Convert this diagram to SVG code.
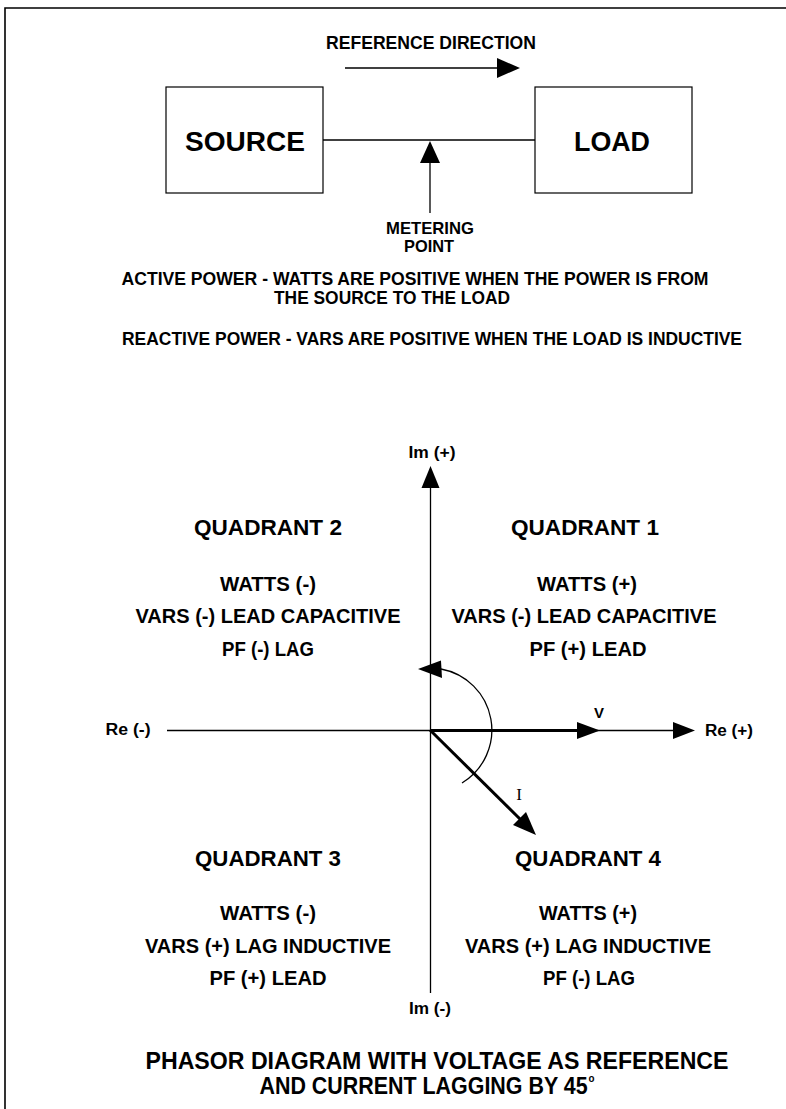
<svg xmlns="http://www.w3.org/2000/svg" width="786" height="1109" viewBox="0 0 786 1109">
<style>
.t{font-family:"Liberation Sans",Arial,sans-serif;font-weight:bold;fill:#000;text-anchor:middle}
.ln{stroke:#000;stroke-width:1.3;fill:none}
.box{stroke:#000;stroke-width:1.2;fill:#fff}
.ah{fill:#000;stroke:none}
</style>
<rect x="0" y="0" width="786" height="1109" fill="#fff"/>
<path d="M5 1109 V8 H786" stroke="#000" stroke-width="1.6" fill="none"/>

<g id="reference-direction">
<text class="t" x="431" y="49" font-size="18.5" textLength="210" lengthAdjust="spacingAndGlyphs">REFERENCE DIRECTION</text>
</g>

<g id="source">
<rect class="box" x="166" y="87" width="157" height="106"/>
<text class="t" x="245" y="151" font-size="27" textLength="120" lengthAdjust="spacingAndGlyphs">SOURCE</text>
</g>
<g id="load">
<rect class="box" x="535" y="87" width="157" height="106"/>
<text class="t" x="612" y="151" font-size="27" textLength="76" lengthAdjust="spacingAndGlyphs">LOAD</text>
</g>

<g id="metering-point">
<text class="t" x="430" y="234" font-size="17" textLength="88" lengthAdjust="spacingAndGlyphs">METERING</text>
<text class="t" x="429" y="252" font-size="17" textLength="50" lengthAdjust="spacingAndGlyphs">POINT</text>
</g>

<g id="notes">
<text class="t" x="415" y="285" font-size="17.5" textLength="587" lengthAdjust="spacingAndGlyphs">ACTIVE POWER - WATTS ARE POSITIVE WHEN THE POWER IS FROM</text>
<text class="t" x="392" y="304" font-size="17.5" textLength="236" lengthAdjust="spacingAndGlyphs">THE SOURCE TO THE LOAD</text>
<text class="t" x="432" y="345" font-size="18.5" textLength="620" lengthAdjust="spacingAndGlyphs">REACTIVE POWER - VARS ARE POSITIVE WHEN THE LOAD IS INDUCTIVE</text>
</g>

<g id="connectors">
<line class="ln" x1="345" y1="68" x2="498" y2="68"/>
<polygon class="ah" points="520,68 497,58 497,78"/>
<line class="ln" x1="323" y1="140" x2="535" y2="140"/>
<line class="ln" x1="430" y1="160" x2="430" y2="213"/>
<polygon class="ah" points="430,141 420,163 440,163"/>
</g>

<g id="axes">
<line class="ln" x1="430.5" y1="485" x2="430.5" y2="993"/>
<polygon class="ah" points="430.5,466 421.5,488 439.5,488"/>
<line class="ln" x1="167" y1="730.5" x2="675" y2="730.5"/>
<polygon class="ah" points="695,730.5 673,722 673,739"/>
<text class="t" x="432" y="458" font-size="16" textLength="47" lengthAdjust="spacingAndGlyphs">Im (+)</text>
<text class="t" x="430" y="1014" font-size="16" textLength="42" lengthAdjust="spacingAndGlyphs">Im (-)</text>
<text class="t" x="128" y="735" font-size="16" textLength="45" lengthAdjust="spacingAndGlyphs">Re (-)</text>
<text class="t" x="729" y="736" font-size="16" textLength="48" lengthAdjust="spacingAndGlyphs">Re (+)</text>
</g>

<g id="phasors">
<line x1="430" y1="730.5" x2="580" y2="730.5" stroke="#000" stroke-width="3"/>
<polygon class="ah" points="600,730.5 577,722 577,739"/>
<text class="t" x="599" y="718" font-size="15">V</text>
<line x1="430" y1="730" x2="522" y2="821" stroke="#000" stroke-width="3"/>
<polygon class="ah" points="536,835 513,825 526,812"/>
<text x="519" y="800" font-family="Liberation Serif, serif" font-size="17" text-anchor="middle">I</text>
<path class="ln" d="M462 783 A62 62 0 0 0 441 669"/>
<polygon class="ah" points="418,669 441,660.5 442,678"/>
</g>

<g id="quadrant-2">
<text class="t" x="268" y="535" font-size="22" textLength="148" lengthAdjust="spacingAndGlyphs">QUADRANT 2</text>
<text class="t" x="268" y="591" font-size="19.5" textLength="96" lengthAdjust="spacingAndGlyphs">WATTS (-)</text>
<text class="t" x="268" y="623" font-size="19.5" textLength="265" lengthAdjust="spacingAndGlyphs">VARS (-) LEAD CAPACITIVE</text>
<text class="t" x="268" y="656" font-size="19.5" textLength="92" lengthAdjust="spacingAndGlyphs">PF (-) LAG</text>
</g>
<g id="quadrant-1">
<text class="t" x="585" y="535" font-size="22" textLength="148" lengthAdjust="spacingAndGlyphs">QUADRANT 1</text>
<text class="t" x="587" y="591" font-size="19.5" textLength="100" lengthAdjust="spacingAndGlyphs">WATTS (+)</text>
<text class="t" x="584" y="623" font-size="19.5" textLength="265" lengthAdjust="spacingAndGlyphs">VARS (-) LEAD CAPACITIVE</text>
<text class="t" x="588" y="656" font-size="19.5" textLength="117" lengthAdjust="spacingAndGlyphs">PF (+) LEAD</text>
</g>
<g id="quadrant-3">
<text class="t" x="268" y="866" font-size="22" textLength="146" lengthAdjust="spacingAndGlyphs">QUADRANT 3</text>
<text class="t" x="268" y="920" font-size="19.5" textLength="96" lengthAdjust="spacingAndGlyphs">WATTS (-)</text>
<text class="t" x="268" y="953" font-size="19.5" textLength="246" lengthAdjust="spacingAndGlyphs">VARS (+) LAG INDUCTIVE</text>
<text class="t" x="268" y="985" font-size="19.5" textLength="117" lengthAdjust="spacingAndGlyphs">PF (+) LEAD</text>
</g>
<g id="quadrant-4">
<text class="t" x="588" y="866" font-size="22" textLength="146" lengthAdjust="spacingAndGlyphs">QUADRANT 4</text>
<text class="t" x="588" y="920" font-size="19.5" textLength="98" lengthAdjust="spacingAndGlyphs">WATTS (+)</text>
<text class="t" x="588" y="953" font-size="19.5" textLength="246" lengthAdjust="spacingAndGlyphs">VARS (+) LAG INDUCTIVE</text>
<text class="t" x="589" y="985" font-size="19.5" textLength="92" lengthAdjust="spacingAndGlyphs">PF (-) LAG</text>
</g>

<g id="title">
<text class="t" x="437" y="1069" font-size="24" textLength="583" lengthAdjust="spacingAndGlyphs">PHASOR DIAGRAM WITH VOLTAGE AS REFERENCE</text>
<text class="t" x="427" y="1094" font-size="24" textLength="335" lengthAdjust="spacingAndGlyphs">AND CURRENT LAGGING BY 45<tspan font-size="11" dy="-12" dx="1">o</tspan></text>
</g>
</svg>
